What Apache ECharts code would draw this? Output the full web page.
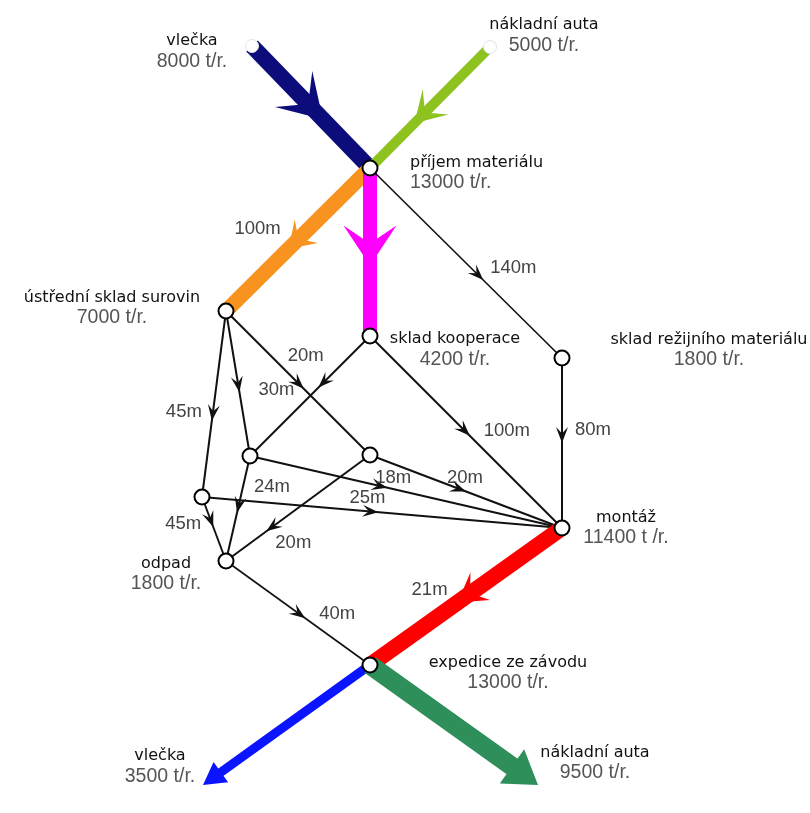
<!DOCTYPE html>
<html><head><meta charset="utf-8">
<script src="https://cdn.jsdelivr.net/npm/echarts@6.0.0/dist/echarts.min.js"></script>
<style>html,body{margin:0;padding:0;background:#fff}#c{width:810px;height:813px}</style>
</head><body><div id="c"></div>
<script>
// ---- data ----
const nodeIds = ['vleckaIn','autaIn','prijem','ustredni','kooperace','rezijni','uzelA','uzelB','uzelC','montaz','odpad','expedice','vleckaOut','autaOut'];
const nodeX = [252, 490, 370, 226, 370, 562, 250, 370, 202, 562, 226, 370, 203, 538];
const nodeY = [46, 47, 168, 311, 336, 358, 456, 455, 497, 528, 561, 665, 785, 785];
const nodeNames = ['vlečka','nákladní auta','příjem materiálu','ústřední sklad surovin','sklad kooperace','sklad režijního materiálu','','','','montáž','odpad','expedice ze závodu','vlečka','nákladní auta'];
const nodeFlows = [8000, 5000, 13000, 7000, 4200, 1800, null, null, null, 11400, 1800, 13000, 3500, 9500];

const edgeFrom = ['vleckaIn','autaIn','prijem','prijem','prijem','ustredni','ustredni','ustredni','kooperace','kooperace','rezijni','uzelA','uzelB','uzelC','uzelC','uzelA','uzelB','odpad','montaz','expedice','expedice'];
const edgeTo   = ['prijem','prijem','ustredni','kooperace','rezijni','uzelB','uzelA','uzelC','uzelA','montaz','montaz','montaz','montaz','montaz','odpad','odpad','odpad','expedice','expedice','vleckaOut','autaOut'];
const edgeLengths = [null, null, 100, null, 140, 20, 30, 45, null, 100, 80, 18, 20, 25, 45, 24, 20, 40, 21, null, null];

// ---- styles (not data) ----
const K = '#111';
const edgeStyles = [
  {color:'#0c0c7a', width:16, t:0.60, W:52, L:42, notch:0.5},
  {color:'#8dc21f', width:10, t:0.63, W:36, L:30, notch:0.5},
  {color:'#f7931e', width:15, t:0.565, W:33, L:25, notch:0.55, lx:-31, ly:-20},
  {color:'#ff00ff', width:14, t:0.58, W:53, L:40, notch:0.55},
  {color:K, width:1.6, t:0.59, W:12, L:16, notch:0.6, lx:30, ly:-12},
  {color:K, width:2, t:0.54, W:12, L:16, notch:0.6, lx:2, ly:-33},
  {color:K, width:2, t:0.56, W:12, L:16, notch:0.6, lx:37, ly:-2},
  {color:K, width:2, t:0.59, W:12, L:16, notch:0.6, lx:-28, ly:-9},
  {color:K, width:2, t:0.43, W:12, L:16, notch:0.6},
  {color:K, width:2, t:0.52, W:12, L:16, notch:0.6, lx:37, ly:-5},
  {color:K, width:2, t:0.50, W:12, L:16, notch:0.6, lx:31, ly:-13},
  {color:K, width:2, t:0.44, W:12, L:16, notch:0.6, lx:6, ly:-10},
  {color:K, width:2, t:0.50, W:12, L:16, notch:0.6, lx:-1, ly:-14},
  {color:K, width:2, t:0.49, W:12, L:16, notch:0.6, lx:-11, ly:-14},
  {color:K, width:2, t:0.47, W:12, L:16, notch:0.6, lx:-30, ly:-3},
  {color:K, width:2, t:0.54, W:12, L:16, notch:0.6, lx:35, ly:-26},
  {color:K, width:2, t:0.72, W:12, L:16, notch:0.6, lx:27, ly:12},
  {color:K, width:1.6, t:0.55, W:12, L:16, notch:0.6, lx:32, ly:-4},
  {color:'#ff0000', width:16, t:0.544, W:34, L:28, notch:0.55, lx:-28, ly:-13},
  {color:'#0a14ff', width:9, t:1, W:25, L:22, notch:1},
  {color:'#2f8f5b', width:19, t:1, W:42, L:32, notch:1}
];
const nodeLabelLayout = [
  {dx:-60, dy:5.5}, {dx:54, dy:-11.5}, {dx:40, dy:5, align:'left'}, {dx:-114, dy:-3},
  {dx:85, dy:13.5}, {dx:147, dy:-8}, null, null, null, {dx:64, dy:0},
  {dx:-60, dy:13}, {dx:138, dy:8}, {dx:-43, dy:-18.5}, {dx:57, dy:-22}
];

const idx = id => nodeIds.indexOf(id);
const edgeData = edgeFrom.map((f, i) => {
  const a = idx(f), b = idx(edgeTo[i]);
  return [nodeX[a], nodeY[a], nodeX[b], nodeY[b]];
});

const nodeData = nodeIds.map((id, i) => {
  const isStart = (id === 'vleckaIn' || id === 'autaIn');
  const isEnd = (id === 'vleckaOut' || id === 'autaOut');
  const lay = nodeLabelLayout[i];
  const item = {
    value: [nodeX[i], nodeY[i]],
    symbol: 'circle',
    symbolSize: isEnd ? 1 : (isStart ? 13 : 15),
    itemStyle: isEnd ? {color:'rgba(0,0,0,0)', borderWidth:0, opacity:1}
             : isStart ? {color:'#fff', borderColor:'#e4e4e4', borderWidth:1, opacity:1}
             : {color:'#fff', borderColor:'#000', borderWidth:2, opacity:1}
  };
  if (lay) {
    const unit = id === 'montaz' ? ' t /r.' : ' t/r.';
    item.label = {
      show: true,
      position: 'inside',
      offset: [lay.dx, lay.dy],
      align: lay.align || 'center',
      verticalAlign: 'middle',
      formatter: '{n|' + nodeNames[i] + '}\n{v|' + nodeFlows[i] + unit + '}',
      rich: {
        n: {fontFamily:'DejaVu Sans', fontSize:16, color:'#111', lineHeight:20, align: lay.align || 'center'},
        v: {fontFamily:'Liberation Sans', fontSize:19.5, color:'#555', lineHeight:21, align: lay.align || 'center'}
      }
    };
  } else {
    item.label = {show:false};
  }
  return item;
});

const chart = echarts.init(document.getElementById('c'));
chart.setOption({
  backgroundColor: '#fff',
  animation: false,
  grid: {left:0, right:0, top:0, bottom:0},
  xAxis: {type:'value', min:0, max:810, show:false},
  yAxis: {type:'value', min:0, max:813, inverse:true, show:false},
  series: [
    {
      type: 'custom',
      coordinateSystem: 'cartesian2d',
      data: edgeData,
      encode: {x:[0,2], y:[1,3]},
      clip: false,
      z: 2,
      renderItem: function (params, api) {
        const i = params.dataIndex;
        const s = edgeStyles[i];
        const a = api.coord([api.value(0), api.value(1)]);
        const b = api.coord([api.value(2), api.value(3)]);
        const dx = b[0] - a[0], dy = b[1] - a[1], len = Math.hypot(dx, dy);
        const ux = dx / len, uy = dy / len, nx = -uy, ny = ux;
        const tip = [a[0] + dx * s.t, a[1] + dy * s.t];
        const back = [tip[0] - ux * s.L, tip[1] - uy * s.L];
        const notch = [tip[0] - ux * s.L * s.notch, tip[1] - uy * s.L * s.notch];
        const pts = [tip, [back[0] + nx * s.W / 2, back[1] + ny * s.W / 2], notch, [back[0] - nx * s.W / 2, back[1] - ny * s.W / 2]];
        const end = s.t >= 1 ? [tip[0] - ux * s.L * 0.6, tip[1] - uy * s.L * 0.6] : b;
        const children = [
          {type:'line', shape:{x1:a[0], y1:a[1], x2:end[0], y2:end[1]}, style:{stroke:s.color, lineWidth:s.width, lineCap:'butt'}},
          {type:'polygon', shape:{points:pts}, style:{fill:s.color}}
        ];
        if (edgeLengths[i] != null) {
          children.push({type:'text', x: tip[0] + s.lx, y: tip[1] + s.ly,
            style:{text: edgeLengths[i] + 'm', fill:'#444', font:'18.5px "Liberation Sans"', align:'center', verticalAlign:'middle'}});
        }
        return {type:'group', children: children};
      }
    },
    {
      type: 'scatter',
      data: nodeData,
      z: 5,
      silent: true,
      itemStyle: {opacity: 1}
    }
  ]
});
</script>
</body></html>
